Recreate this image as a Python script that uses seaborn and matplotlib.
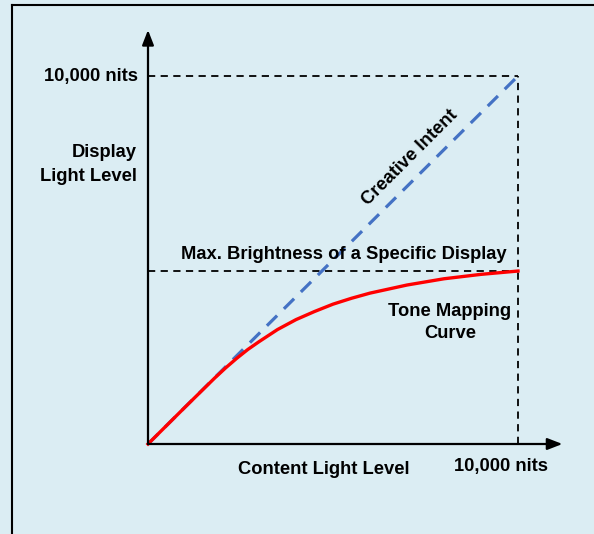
import numpy as np
import pandas as pd
import matplotlib
matplotlib.use("Agg")
import matplotlib.pyplot as plt
import seaborn as sns

# values (nits)
content_levels = [0, 1000, 1800, 2100, 2400, 2700, 3000, 3500, 4000, 4500, 5000, 5500, 6000, 7000, 8000, 9000, 10000]
tone_mapped = [0, 1000, 1790, 2070, 2330, 2570, 2780, 3110, 3380, 3600, 3800, 3960, 4100, 4320, 4490, 4610, 4700]
intent_x = [0, 10000]
intent_y = [0, 10000]
max_display = 4700
peak = 10000

bg = "#dbedf3"
plt.rcParams['font.family'] = ['Liberation Sans', 'DejaVu Sans']

fig = plt.figure(figsize=(5.94, 5.34), dpi=100)
fig.patch.set_facecolor(bg)
W, H = 594, 534
ax = fig.add_axes([148 / W, (H - 444) / H, 370 / W, 368 / H])
ax.set_facecolor(bg)
ax.set_xlim(0, peak)
ax.set_ylim(0, peak)

# frame around the slide
fig.add_artist(plt.Line2D([11.5 / W, 11.5 / W], [0, 1 - 5 / H], color="black", lw=1.5))
fig.add_artist(plt.Line2D([11.5 / W, 1], [1 - 5 / H, 1 - 5 / H], color="black", lw=1.5))

# reference dashed lines
ax.plot([0, peak], [peak, peak], color="black", lw=1.3, ls=(0, (4, 3)), clip_on=False)
ax.plot([peak, peak], [0, peak], color="black", lw=1.3, ls=(0, (4, 3)), clip_on=False)
ax.plot([0, peak], [max_display, max_display], color="black", lw=1.3, ls=(0, (4, 3)), clip_on=False)

intent = pd.DataFrame({"x": intent_x, "y": intent_y})
sns.lineplot(data=intent, x="x", y="y", ax=ax, color="#4472c4", lw=2.3,
             dashes=False, linestyle=(0, (4.5, 3)), clip_on=False)
curve = pd.DataFrame({"x": content_levels, "y": tone_mapped})
sns.lineplot(data=curve, x="x", y="y", ax=ax, color="#ff0000", lw=2.4, clip_on=False)
ax.axis("off")

# axes with arrows
arrow = dict(arrowstyle="-|>,head_width=0.35,head_length=0.9", color="black", lw=1.6,
             shrinkA=0, shrinkB=0)
ax.annotate("", xy=(11200, 0), xytext=(0, 0), arrowprops=arrow, annotation_clip=False)
ax.annotate("", xy=(0, 11250), xytext=(0, 0), arrowprops=arrow, annotation_clip=False)

fs = 13.2
ax.text(-270, peak, "10,000 nits", ha="right", va="center", fontsize=fs, fontweight="bold")
ax.text(-300, 7600, "Display\nLight Level", ha="right", va="center", fontsize=fs,
        fontweight="bold", linespacing=1.5)
ax.text(4757, -680, "Content Light Level", ha="center", va="center", fontsize=fs,
        fontweight="bold")
ax.text(9540, -600, "10,000 nits", ha="center", va="center", fontsize=fs, fontweight="bold")
ax.text(7080, 7770, "Creative Intent", ha="center", va="center", fontsize=fs,
        fontweight="bold", rotation=45, rotation_mode="anchor")
ax.text(5300, 5140, "Max. Brightness of a Specific Display", ha="center", va="center",
        fontsize=fs, fontweight="bold")
ax.text(8160, 3300, "Tone Mapping\nCurve", ha="center", va="center", fontsize=fs,
        fontweight="bold", linespacing=1.45)

fig.savefig("out.png", dpi=100, facecolor=bg)
